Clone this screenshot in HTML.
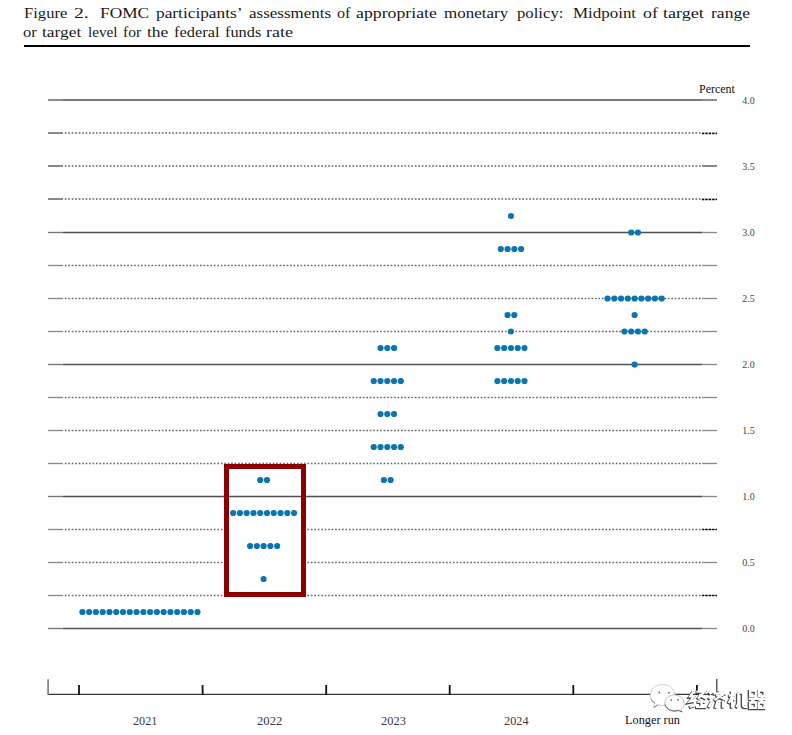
<!DOCTYPE html>
<html><head><meta charset="utf-8"><style>
html,body{margin:0;padding:0;background:#fff;}
body{width:792px;height:735px;position:relative;overflow:hidden;}
span{position:absolute;white-space:pre;line-height:1;transform-origin:0 0;font-family:"Liberation Serif",serif;}
.t{font-size:15px;color:#1a1a1a;}
.xl{font-size:12px;color:#3a3a3a;}
.lr{font-size:12px;color:#111;}
.pct{font-size:12px;color:#111;}
.yl{font-size:10px;color:#444;}
.rule{position:absolute;left:23.5px;top:44.5px;width:726.5px;height:2.2px;background:#000;}
svg{position:absolute;left:0;top:0;}
</style></head><body>
<div class="rule"></div>
<svg width="792" height="735" viewBox="0 0 792 735">
<line x1="48" y1="628.5" x2="63" y2="628.5" stroke="#757575" stroke-width="1.35"/>
<line x1="63" y1="628.5" x2="702" y2="628.5" stroke="#505050" stroke-width="1.35"/>
<line x1="702" y1="628.5" x2="717" y2="628.5" stroke="#8a8a8a" stroke-width="1.35"/>
<line x1="48" y1="595.5" x2="63" y2="595.5" stroke="#8a8a8a" stroke-width="1.35"/>
<line x1="64.8" y1="595.5" x2="702" y2="595.5" stroke="#6a6a6a" stroke-width="1.35" stroke-dasharray="1.7 1.7655"/>
<line x1="702" y1="595.5" x2="717" y2="595.5" stroke="#aaa" stroke-width="1"/>
<line x1="702" y1="595.5" x2="717" y2="595.5" stroke="#000" stroke-width="1.3" stroke-dasharray="2.2 1.2"/>
<line x1="48" y1="562.5" x2="63" y2="562.5" stroke="#8a8a8a" stroke-width="1.35"/>
<line x1="64.8" y1="562.5" x2="702" y2="562.5" stroke="#6a6a6a" stroke-width="1.35" stroke-dasharray="1.7 1.7655"/>
<line x1="702" y1="562.5" x2="717" y2="562.5" stroke="#8a8a8a" stroke-width="1.35"/>
<line x1="48" y1="529.5" x2="63" y2="529.5" stroke="#8a8a8a" stroke-width="1.35"/>
<line x1="64.8" y1="529.5" x2="702" y2="529.5" stroke="#6a6a6a" stroke-width="1.35" stroke-dasharray="1.7 1.7655"/>
<line x1="702" y1="529.5" x2="717" y2="529.5" stroke="#aaa" stroke-width="1"/>
<line x1="702" y1="529.5" x2="717" y2="529.5" stroke="#000" stroke-width="1.3" stroke-dasharray="2.2 1.2"/>
<line x1="48" y1="496.5" x2="63" y2="496.5" stroke="#757575" stroke-width="1.35"/>
<line x1="63" y1="496.5" x2="702" y2="496.5" stroke="#505050" stroke-width="1.35"/>
<line x1="702" y1="496.5" x2="717" y2="496.5" stroke="#8a8a8a" stroke-width="1.35"/>
<line x1="48" y1="463.5" x2="63" y2="463.5" stroke="#8a8a8a" stroke-width="1.35"/>
<line x1="64.8" y1="463.5" x2="702" y2="463.5" stroke="#6a6a6a" stroke-width="1.35" stroke-dasharray="1.7 1.7655"/>
<line x1="702" y1="463.5" x2="717" y2="463.5" stroke="#8a8a8a" stroke-width="1.35"/>
<line x1="48" y1="430.5" x2="63" y2="430.5" stroke="#8a8a8a" stroke-width="1.35"/>
<line x1="64.8" y1="430.5" x2="702" y2="430.5" stroke="#6a6a6a" stroke-width="1.35" stroke-dasharray="1.7 1.7655"/>
<line x1="702" y1="430.5" x2="717" y2="430.5" stroke="#8a8a8a" stroke-width="1.35"/>
<line x1="48" y1="397.5" x2="63" y2="397.5" stroke="#8a8a8a" stroke-width="1.35"/>
<line x1="64.8" y1="397.5" x2="702" y2="397.5" stroke="#6a6a6a" stroke-width="1.35" stroke-dasharray="1.7 1.7655"/>
<line x1="702" y1="397.5" x2="717" y2="397.5" stroke="#8a8a8a" stroke-width="1.35"/>
<line x1="48" y1="364.5" x2="63" y2="364.5" stroke="#757575" stroke-width="1.35"/>
<line x1="63" y1="364.5" x2="702" y2="364.5" stroke="#505050" stroke-width="1.35"/>
<line x1="702" y1="364.5" x2="717" y2="364.5" stroke="#8a8a8a" stroke-width="1.35"/>
<line x1="48" y1="331.5" x2="63" y2="331.5" stroke="#8a8a8a" stroke-width="1.35"/>
<line x1="64.8" y1="331.5" x2="702" y2="331.5" stroke="#6a6a6a" stroke-width="1.35" stroke-dasharray="1.7 1.7655"/>
<line x1="702" y1="331.5" x2="717" y2="331.5" stroke="#8a8a8a" stroke-width="1.35"/>
<line x1="48" y1="298.5" x2="63" y2="298.5" stroke="#8a8a8a" stroke-width="1.35"/>
<line x1="64.8" y1="298.5" x2="702" y2="298.5" stroke="#6a6a6a" stroke-width="1.35" stroke-dasharray="1.7 1.7655"/>
<line x1="702" y1="298.5" x2="717" y2="298.5" stroke="#8a8a8a" stroke-width="1.35"/>
<line x1="48" y1="265.5" x2="63" y2="265.5" stroke="#8a8a8a" stroke-width="1.35"/>
<line x1="64.8" y1="265.5" x2="702" y2="265.5" stroke="#6a6a6a" stroke-width="1.35" stroke-dasharray="1.7 1.7655"/>
<line x1="702" y1="265.5" x2="717" y2="265.5" stroke="#8a8a8a" stroke-width="1.35"/>
<line x1="48" y1="232.5" x2="63" y2="232.5" stroke="#757575" stroke-width="1.35"/>
<line x1="63" y1="232.5" x2="702" y2="232.5" stroke="#505050" stroke-width="1.35"/>
<line x1="702" y1="232.5" x2="717" y2="232.5" stroke="#8a8a8a" stroke-width="1.35"/>
<line x1="48" y1="199.0" x2="63" y2="199.0" stroke="#8a8a8a" stroke-width="2.0"/>
<line x1="64.8" y1="199.0" x2="702" y2="199.0" stroke="#8a8a8a" stroke-width="2.0" stroke-dasharray="1.7 1.7655"/>
<line x1="702" y1="199.0" x2="717" y2="199.0" stroke="#aaa" stroke-width="1"/>
<line x1="702" y1="199.5" x2="717" y2="199.5" stroke="#000" stroke-width="1.3" stroke-dasharray="2.2 1.2"/>
<line x1="48" y1="166.0" x2="63" y2="166.0" stroke="#8a8a8a" stroke-width="2.0"/>
<line x1="64.8" y1="166.0" x2="702" y2="166.0" stroke="#8a8a8a" stroke-width="2.0" stroke-dasharray="1.7 1.7655"/>
<line x1="702" y1="166.0" x2="717" y2="166.0" stroke="#8a8a8a" stroke-width="2.0"/>
<line x1="48" y1="133.0" x2="63" y2="133.0" stroke="#8a8a8a" stroke-width="2.0"/>
<line x1="64.8" y1="133.0" x2="702" y2="133.0" stroke="#8a8a8a" stroke-width="2.0" stroke-dasharray="1.7 1.7655"/>
<line x1="702" y1="133.0" x2="717" y2="133.0" stroke="#aaa" stroke-width="1"/>
<line x1="702" y1="133.5" x2="717" y2="133.5" stroke="#000" stroke-width="1.3" stroke-dasharray="2.2 1.2"/>
<line x1="48" y1="100.0" x2="717" y2="100.0" stroke="#8c8c8c" stroke-width="2.0"/>
<line x1="63" y1="100.0" x2="702" y2="100.0" stroke="#7a7a7a" stroke-width="2.0"/>
<rect x="226.5" y="466.5" width="77" height="128" fill="#fff"/>
<line x1="226" y1="496.5" x2="304" y2="496.5" stroke="#505050" stroke-width="1.35"/>
<rect x="226.5" y="466.5" width="77" height="128" fill="none" stroke="#8b0000" stroke-width="5"/>
<circle cx="82.41" cy="612.0" r="3.1" fill="#0a75ae"/>
<circle cx="89.17" cy="612.0" r="3.1" fill="#0a75ae"/>
<circle cx="95.94" cy="612.0" r="3.1" fill="#0a75ae"/>
<circle cx="102.71" cy="612.0" r="3.1" fill="#0a75ae"/>
<circle cx="109.48" cy="612.0" r="3.1" fill="#0a75ae"/>
<circle cx="116.25" cy="612.0" r="3.1" fill="#0a75ae"/>
<circle cx="123.02" cy="612.0" r="3.1" fill="#0a75ae"/>
<circle cx="129.79" cy="612.0" r="3.1" fill="#0a75ae"/>
<circle cx="136.56" cy="612.0" r="3.1" fill="#0a75ae"/>
<circle cx="143.33" cy="612.0" r="3.1" fill="#0a75ae"/>
<circle cx="150.10" cy="612.0" r="3.1" fill="#0a75ae"/>
<circle cx="156.88" cy="612.0" r="3.1" fill="#0a75ae"/>
<circle cx="163.64" cy="612.0" r="3.1" fill="#0a75ae"/>
<circle cx="170.41" cy="612.0" r="3.1" fill="#0a75ae"/>
<circle cx="177.19" cy="612.0" r="3.1" fill="#0a75ae"/>
<circle cx="183.95" cy="612.0" r="3.1" fill="#0a75ae"/>
<circle cx="190.72" cy="612.0" r="3.1" fill="#0a75ae"/>
<circle cx="197.49" cy="612.0" r="3.1" fill="#0a75ae"/>
<circle cx="260.23" cy="480.0" r="3.1" fill="#0a75ae"/>
<circle cx="267.00" cy="480.0" r="3.1" fill="#0a75ae"/>
<circle cx="233.15" cy="513.0" r="3.1" fill="#0a75ae"/>
<circle cx="239.92" cy="513.0" r="3.1" fill="#0a75ae"/>
<circle cx="246.69" cy="513.0" r="3.1" fill="#0a75ae"/>
<circle cx="253.46" cy="513.0" r="3.1" fill="#0a75ae"/>
<circle cx="260.23" cy="513.0" r="3.1" fill="#0a75ae"/>
<circle cx="267.00" cy="513.0" r="3.1" fill="#0a75ae"/>
<circle cx="273.76" cy="513.0" r="3.1" fill="#0a75ae"/>
<circle cx="280.54" cy="513.0" r="3.1" fill="#0a75ae"/>
<circle cx="287.31" cy="513.0" r="3.1" fill="#0a75ae"/>
<circle cx="294.07" cy="513.0" r="3.1" fill="#0a75ae"/>
<circle cx="250.07" cy="546.0" r="3.1" fill="#0a75ae"/>
<circle cx="256.84" cy="546.0" r="3.1" fill="#0a75ae"/>
<circle cx="263.61" cy="546.0" r="3.1" fill="#0a75ae"/>
<circle cx="270.38" cy="546.0" r="3.1" fill="#0a75ae"/>
<circle cx="277.15" cy="546.0" r="3.1" fill="#0a75ae"/>
<circle cx="263.61" cy="579.0" r="3.1" fill="#0a75ae"/>
<circle cx="380.50" cy="348.0" r="3.1" fill="#0a75ae"/>
<circle cx="387.27" cy="348.0" r="3.1" fill="#0a75ae"/>
<circle cx="394.04" cy="348.0" r="3.1" fill="#0a75ae"/>
<circle cx="373.73" cy="381.0" r="3.1" fill="#0a75ae"/>
<circle cx="380.50" cy="381.0" r="3.1" fill="#0a75ae"/>
<circle cx="387.27" cy="381.0" r="3.1" fill="#0a75ae"/>
<circle cx="394.04" cy="381.0" r="3.1" fill="#0a75ae"/>
<circle cx="400.81" cy="381.0" r="3.1" fill="#0a75ae"/>
<circle cx="380.50" cy="414.0" r="3.1" fill="#0a75ae"/>
<circle cx="387.27" cy="414.0" r="3.1" fill="#0a75ae"/>
<circle cx="394.04" cy="414.0" r="3.1" fill="#0a75ae"/>
<circle cx="373.73" cy="447.0" r="3.1" fill="#0a75ae"/>
<circle cx="380.50" cy="447.0" r="3.1" fill="#0a75ae"/>
<circle cx="387.27" cy="447.0" r="3.1" fill="#0a75ae"/>
<circle cx="394.04" cy="447.0" r="3.1" fill="#0a75ae"/>
<circle cx="400.81" cy="447.0" r="3.1" fill="#0a75ae"/>
<circle cx="383.88" cy="480.0" r="3.1" fill="#0a75ae"/>
<circle cx="390.65" cy="480.0" r="3.1" fill="#0a75ae"/>
<circle cx="510.93" cy="216.0" r="3.1" fill="#0a75ae"/>
<circle cx="500.78" cy="249.0" r="3.1" fill="#0a75ae"/>
<circle cx="507.55" cy="249.0" r="3.1" fill="#0a75ae"/>
<circle cx="514.32" cy="249.0" r="3.1" fill="#0a75ae"/>
<circle cx="521.09" cy="249.0" r="3.1" fill="#0a75ae"/>
<circle cx="507.55" cy="315.0" r="3.1" fill="#0a75ae"/>
<circle cx="514.32" cy="315.0" r="3.1" fill="#0a75ae"/>
<circle cx="510.93" cy="331.5" r="3.1" fill="#0a75ae"/>
<circle cx="497.39" cy="348.0" r="3.1" fill="#0a75ae"/>
<circle cx="504.16" cy="348.0" r="3.1" fill="#0a75ae"/>
<circle cx="510.93" cy="348.0" r="3.1" fill="#0a75ae"/>
<circle cx="517.70" cy="348.0" r="3.1" fill="#0a75ae"/>
<circle cx="524.47" cy="348.0" r="3.1" fill="#0a75ae"/>
<circle cx="497.39" cy="381.0" r="3.1" fill="#0a75ae"/>
<circle cx="504.16" cy="381.0" r="3.1" fill="#0a75ae"/>
<circle cx="510.93" cy="381.0" r="3.1" fill="#0a75ae"/>
<circle cx="517.70" cy="381.0" r="3.1" fill="#0a75ae"/>
<circle cx="524.47" cy="381.0" r="3.1" fill="#0a75ae"/>
<circle cx="631.20" cy="232.5" r="3.1" fill="#0a75ae"/>
<circle cx="637.97" cy="232.5" r="3.1" fill="#0a75ae"/>
<circle cx="607.51" cy="298.5" r="3.1" fill="#0a75ae"/>
<circle cx="614.28" cy="298.5" r="3.1" fill="#0a75ae"/>
<circle cx="621.05" cy="298.5" r="3.1" fill="#0a75ae"/>
<circle cx="627.82" cy="298.5" r="3.1" fill="#0a75ae"/>
<circle cx="634.59" cy="298.5" r="3.1" fill="#0a75ae"/>
<circle cx="641.36" cy="298.5" r="3.1" fill="#0a75ae"/>
<circle cx="648.13" cy="298.5" r="3.1" fill="#0a75ae"/>
<circle cx="654.90" cy="298.5" r="3.1" fill="#0a75ae"/>
<circle cx="661.67" cy="298.5" r="3.1" fill="#0a75ae"/>
<circle cx="634.59" cy="315.0" r="3.1" fill="#0a75ae"/>
<circle cx="624.43" cy="331.5" r="3.1" fill="#0a75ae"/>
<circle cx="631.20" cy="331.5" r="3.1" fill="#0a75ae"/>
<circle cx="637.97" cy="331.5" r="3.1" fill="#0a75ae"/>
<circle cx="644.74" cy="331.5" r="3.1" fill="#0a75ae"/>
<circle cx="634.59" cy="364.5" r="3.1" fill="#0a75ae"/>
<line x1="48" y1="694.4" x2="717" y2="694.4" stroke="#3a3a3a" stroke-width="1.3"/>
<line x1="48.1" y1="679.2" x2="48.1" y2="695" stroke="#777" stroke-width="1.6"/>
<line x1="716.8" y1="679" x2="716.8" y2="695" stroke="#333" stroke-width="1.2"/>
<line x1="79.0" y1="685" x2="79.0" y2="695" stroke="#111" stroke-width="1.8"/>
<line x1="202.6" y1="685" x2="202.6" y2="695" stroke="#111" stroke-width="1.8"/>
<line x1="326.2" y1="685" x2="326.2" y2="695" stroke="#111" stroke-width="1.8"/>
<line x1="449.7" y1="685" x2="449.7" y2="695" stroke="#111" stroke-width="1.8"/>
<line x1="573.3" y1="685" x2="573.3" y2="695" stroke="#111" stroke-width="1.8"/>
<line x1="696.9" y1="685" x2="696.9" y2="695" stroke="#111" stroke-width="1.8"/>
<g>
<path d="M662.4,684.5 C669.5,684.5 674.5,689.2 674.5,695 C674.5,700.8 669.5,705.5 662.4,705.5 C660.8,705.5 659.3,705.3 658,704.8 L653.5,707.5 L655,703 C652,701 650.4,698.2 650.4,695 C650.4,689.2 655.4,684.5 662.4,684.5 Z" fill="#fff" stroke="#c8c8c8" stroke-width="0.9"/>
<path d="M653.5,707.5 L658,704.8 M651,699 C652,701.5 654,703 655,703.2" fill="none" stroke="#777" stroke-width="0.9"/>
<circle cx="659.3" cy="692.5" r="0.9" fill="#666"/><circle cx="669" cy="692.8" r="0.9" fill="#666"/>
<path d="M674.5,695 C680,695 684.2,698.8 684.2,703.2 C684.2,705.6 683,707.6 681.2,709 L682.2,712 L678.5,710.4 C677.3,710.8 676,711 674.5,711 C669,711 664.8,707.5 664.8,703.2 C664.8,698.8 669,695 674.5,695 Z" fill="#fff" stroke="#bdbdbd" stroke-width="0.9"/>
<path d="M665,704.5 C666,708 670,711 674.5,711 C676,711 677.3,710.8 678.5,710.4 L682.2,712" fill="none" stroke="#555" stroke-width="1"/>
<circle cx="671.3" cy="700.2" r="0.9" fill="#777"/><circle cx="678" cy="699.8" r="0.9" fill="#555"/>
</g>
<g transform="translate(688,690) scale(0.96,0.95)" fill="none" stroke-linecap="butt" stroke-linejoin="miter"><path d="M6,1 L2,7 L6,7 L1.5,12.5 L6.5,11.5 M1.5,18 L7,16 M8.5,2 L17,2 L10,9.5 M11.5,5 L19,9.5 M9.5,12.5 L18,12.5 M13.8,10 L13.8,18 M8,18 L19.5,18" transform="translate(-0.7,0.7)" stroke="#4a4a4a" stroke-width="3.3"/><path d="M6,1 L2,7 L6,7 L1.5,12.5 L6.5,11.5 M1.5,18 L7,16 M8.5,2 L17,2 L10,9.5 M11.5,5 L19,9.5 M9.5,12.5 L18,12.5 M13.8,10 L13.8,18 M8,18 L19.5,18" transform="translate(0.3,-0.3)" stroke="#fff" stroke-width="2.4"/></g>
<g transform="translate(707.5,690) scale(0.96,0.95)" fill="none" stroke-linecap="butt" stroke-linejoin="miter"><path d="M1.5,2 L3.5,4.5 M1,7.5 L3.2,9.5 M1,18.5 L4.5,11.5 M12,0.5 L13,2.2 M6,3.8 L19.5,3.8 M16.5,4.5 L7,11 M9,5.5 L19,10.5 M10.5,11.5 L8,19 M16,11.5 L16,19" transform="translate(-0.7,0.7)" stroke="#4a4a4a" stroke-width="3.3"/><path d="M1.5,2 L3.5,4.5 M1,7.5 L3.2,9.5 M1,18.5 L4.5,11.5 M12,0.5 L13,2.2 M6,3.8 L19.5,3.8 M16.5,4.5 L7,11 M9,5.5 L19,10.5 M10.5,11.5 L8,19 M16,11.5 L16,19" transform="translate(0.3,-0.3)" stroke="#fff" stroke-width="2.4"/></g>
<g transform="translate(727.5,690) scale(0.96,0.95)" fill="none" stroke-linecap="butt" stroke-linejoin="miter"><path d="M1,6 L8,6 M4.5,1 L4.5,19 M4.5,7 L1,14 M5.5,8 L8,11 M11,3 L11,13 Q11,16 9,18.5 M11,3 L16,3 L16,16 Q16,18 18,18 L19.5,18 L19.5,15" transform="translate(-0.7,0.7)" stroke="#4a4a4a" stroke-width="3.3"/><path d="M1,6 L8,6 M4.5,1 L4.5,19 M4.5,7 L1,14 M5.5,8 L8,11 M11,3 L11,13 Q11,16 9,18.5 M11,3 L16,3 L16,16 Q16,18 18,18 L19.5,18 L19.5,15" transform="translate(0.3,-0.3)" stroke="#fff" stroke-width="2.4"/></g>
<g transform="translate(747.5,690) scale(0.96,0.95)" fill="none" stroke-linecap="butt" stroke-linejoin="miter"><path d="M2.5,1 L8.5,1 L8.5,6.5 L2.5,6.5 Z M11.5,1 L17.5,1 L17.5,6.5 L11.5,6.5 Z M1,9.5 L19,9.5 M10,7 L3,13.5 M10.5,9.5 L18,13.5 M14.5,7 L16,8.5 M2.5,13.5 L8.5,13.5 L8.5,19 L2.5,19 Z M11.5,13.5 L17.5,13.5 L17.5,19 L11.5,19 Z" transform="translate(-0.7,0.7)" stroke="#4a4a4a" stroke-width="3.3"/><path d="M2.5,1 L8.5,1 L8.5,6.5 L2.5,6.5 Z M11.5,1 L17.5,1 L17.5,6.5 L11.5,6.5 Z M1,9.5 L19,9.5 M10,7 L3,13.5 M10.5,9.5 L18,13.5 M14.5,7 L16,8.5 M2.5,13.5 L8.5,13.5 L8.5,19 L2.5,19 Z M11.5,13.5 L17.5,13.5 L17.5,19 L11.5,19 Z" transform="translate(0.3,-0.3)" stroke="#fff" stroke-width="2.4"/></g>
</svg>
<span class="t" style="left:24.45px;top:6.2px;transform:scaleX(1.1059)">Figure</span>
<span class="t" style="left:73.51px;top:6.2px;transform:scaleX(1.3158)">2.</span>
<span class="t" style="left:100.12px;top:6.2px;transform:scaleX(1.1564)">FOMC</span>
<span class="t" style="left:156.11px;top:6.2px;transform:scaleX(1.1536)">participants’</span>
<span class="t" style="left:248.73px;top:6.2px;transform:scaleX(1.1315)">assessments</span>
<span class="t" style="left:337.16px;top:6.2px;transform:scaleX(1.0833)">of</span>
<span class="t" style="left:356.21px;top:6.2px;transform:scaleX(1.1836)">appropriate</span>
<span class="t" style="left:444.22px;top:6.2px;transform:scaleX(1.1324)">monetary</span>
<span class="t" style="left:516.52px;top:6.2px;transform:scaleX(1.1130)">policy:</span>
<span class="t" style="left:572.94px;top:6.2px;transform:scaleX(1.1294)">Midpoint</span>
<span class="t" style="left:642.60px;top:6.2px;transform:scaleX(1.1917)">of</span>
<span class="t" style="left:662.90px;top:6.2px;transform:scaleX(1.2060)">target</span>
<span class="t" style="left:711.11px;top:6.2px;transform:scaleX(1.1723)">range</span>
<span class="t" style="left:23.25px;top:24.7px;transform:scaleX(1.0979)">or</span>
<span class="t" style="left:42.41px;top:24.7px;transform:scaleX(1.1612)">target</span>
<span class="t" style="left:88.35px;top:24.7px;transform:scaleX(1.0140)">level</span>
<span class="t" style="left:123.28px;top:24.7px;transform:scaleX(1.0388)">for</span>
<span class="t" style="left:147.01px;top:24.7px;transform:scaleX(1.1657)">the</span>
<span class="t" style="left:173.65px;top:24.7px;transform:scaleX(1.0920)">federal</span>
<span class="t" style="left:224.76px;top:24.7px;transform:scaleX(1.0884)">funds</span>
<span class="t" style="left:266.30px;top:24.7px;transform:scaleX(1.1954)">rate</span>
<span class="xl" style="left:133.49px;top:714.7px;transform:scaleX(1.0154)">2021</span>
<span class="xl" style="left:256.87px;top:714.7px;transform:scaleX(1.0593)">2022</span>
<span class="xl" style="left:380.68px;top:714.7px;transform:scaleX(1.0348)">2023</span>
<span class="xl" style="left:504.29px;top:714.7px;transform:scaleX(1.0237)">2024</span>
<span class="lr" style="left:625.44px;top:714px;transform:scaleX(1.0235)">Longer run</span>
<span class="pct" style="left:699.30px;top:83px;transform:scaleX(0.9972)">Percent</span>
<span class="yl" style="left:742.3px;top:624.0px">0.0</span>
<span class="yl" style="left:742.3px;top:558.0px">0.5</span>
<span class="yl" style="left:742.3px;top:492.0px">1.0</span>
<span class="yl" style="left:742.3px;top:426.0px">1.5</span>
<span class="yl" style="left:742.3px;top:360.0px">2.0</span>
<span class="yl" style="left:742.3px;top:294.0px">2.5</span>
<span class="yl" style="left:742.3px;top:228.0px">3.0</span>
<span class="yl" style="left:742.3px;top:162.0px">3.5</span>
<span class="yl" style="left:742.3px;top:96.0px">4.0</span>
</body></html>
